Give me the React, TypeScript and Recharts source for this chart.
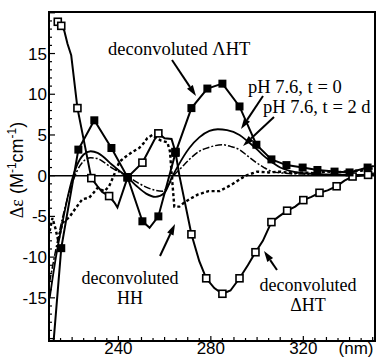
import React from 'react';
import { ComposedChart, Line, XAxis, YAxis, ReferenceLine, ReferenceArea } from 'recharts';

const X_MIN = 210;
const X_MAX = 351;
const Y_MIN = -20.3;
const Y_MAX = 20.1;

const xTicks = [210, 215, 220, 225, 230, 235, 240, 245, 250, 255, 260, 265, 270, 275, 280, 285, 290, 295, 300, 305, 310, 315, 320, 325, 330, 335, 340, 345, 350];
const xLabels = [240, 280, 320];
const yTicks = Array.from({ length: 41 }, (_, i) => i - 20);
const yLabels = [-15, -10, -5, 0, 5, 10, 15];

// deconvoluted ΛHT (filled squares)
const lambdaNm = [211.8, 215.3, 222.7, 229.6, 237.0, 244.0, 250.4, 253.5, 257.3, 264.7, 271.6, 278.5, 285.0, 292.4, 299.7, 306.2, 312.7, 319.7, 326.1, 333.5, 340.0, 347.8, 350.5];
const lambdaVal = [-21, -8.9, 3.2, 6.8, 3.4, -0.2, -5.6, -6.4, -5.0, 2.8, 8.3, 10.7, 11.3, 8.5, 3.8, 2.0, 1.3, 1.0, 0.7, 0.5, 0.4, 1.0, 1.2];
const lambdaMarkers = [215.3, 222.7, 229.6, 237.0, 244.0, 250.4, 257.3, 264.7, 271.6, 278.5, 285.0, 292.4, 299.7, 306.2, 312.7, 319.7, 326.1, 333.5, 340.0, 347.8];

// deconvoluted ΔHT (open squares)
const deltaNm = [212.3, 213.8, 215.3, 216.6, 218.0, 219.6, 222.3, 228.3, 231.0, 233.0, 236.0, 238.3, 239.6, 244.0, 250.4, 253.0, 255.6, 257.3, 260.0, 263.0, 264.7, 266.4, 271.6, 275.0, 278.0, 281.5, 285.0, 288.5, 292.4, 296.0, 299.3, 302.5, 306.2, 309.5, 313.0, 316.5, 320.0, 323.5, 327.0, 330.5, 334.4, 337.8, 341.3, 344.5, 348.0, 350.5];
const deltaVal = [19.2, 18.9, 18.4, 17.8, 16.2, 14.8, 8.3, -0.3, -1.3, -2.0, -2.5, -3.3, -3.9, -0.2, 1.6, 3.0, 4.4, 5.2, 4.6, 4.5, 2.9, 0.0, -7.2, -10.5, -12.6, -13.8, -14.5, -14.1, -12.6, -11.0, -9.4, -8.0, -5.7, -5.0, -4.3, -3.8, -3.0, -2.6, -2.1, -1.8, -1.3, -0.6, -0.1, 0.0, 0.1, 0.3];
const deltaMarkers = [213.8, 215.3, 222.3, 228.3, 236.0, 244.0, 250.4, 257.3, 264.7, 271.6, 278.0, 285.0, 292.4, 299.3, 306.2, 313.0, 320.0, 327.0, 334.4, 341.3, 348.0];

// pH 7.6, t = 0 (solid)
const t0Nm = [210.3, 213, 216, 219, 222, 225, 228, 231, 234, 237, 240, 244, 248, 252, 256, 260, 263, 266, 270.7, 275, 279.4, 283, 287, 292.4, 296, 299.7, 303, 306.7, 310, 314, 320, 330, 340, 350.5];
const t0Val = [-15, -10, -5.5, -1.5, 1.2, 2.6, 3.0, 2.8, 2.2, 1.4, 0.7, -0.2, -1.3, -2.2, -2.6, -2.1, -0.3, 1.3, 3.4, 4.7, 5.5, 5.7, 5.6, 5.0, 4.2, 3.3, 2.4, 1.6, 1.0, 0.6, 0.3, 0.15, 0.1, 0.1];

// pH 7.6, t = 2 d (dash-dot)
const t2Nm = [210.3, 213, 216, 219, 222, 225, 228, 231, 234, 237, 240, 244, 248, 252, 256, 259, 262, 264, 267, 270.7, 275, 279.4, 285, 288.5, 292.4, 296, 299.7, 303, 306.7, 312, 320, 330, 350.5];
const t2Val = [-13, -9, -5, -1.8, 0.5, 1.8, 2.2, 2.1, 1.6, 1.0, 0.5, -0.1, -0.8, -1.4, -1.8, -1.9, -1.0, 0.0, 0.9, 2.0, 3.0, 3.5, 3.8, 3.6, 3.2, 2.4, 1.6, 1.0, 0.5, 0.3, 0.2, 0.1, 0.1];

// deconvoluted HH (dotted)
const hhNm = [210.3, 211.5, 212.8, 214.0, 215.8, 218.8, 221.5, 224.4, 227.4, 229.0, 231.0, 234.0, 236.0, 238.0, 240.4, 243.0, 246.0, 249.0, 251.0, 252.5, 254.7, 256.5, 258.5, 261.2, 262.3, 263.0, 264.2, 266.4, 268.5, 270.7, 274.5, 279.0, 283.7, 289.0, 295.0, 300.0, 305.0, 310.0, 315.0, 320.0, 325.0, 330.0, 335.0, 340.0, 345.0, 350.0];
const hhVal = [-6.8, -5.2, -6.5, -8.0, -5.8, -5.1, -4.0, -2.9, -2.7, -2.2, -1.5, -1.9, -1.3, 0.0, 1.7, 2.3, 2.9, 3.4, 4.0, 4.6, 5.0, 4.6, 4.3, 4.1, 3.0, 0.4, -3.8, -3.8, -3.3, -2.9, -2.3, -1.9, -1.9, -1.1, 0.0, 0.5, 0.4, 0.5, 0.3, 0.4, 0.3, 0.5, 0.4, 0.6, 0.6, 0.9];

const zip = (nm: number[], v: number[]) => nm.map((x, i) => ({ nm: x, v: v[i] }));
const lambdaData = zip(lambdaNm, lambdaVal);
const deltaData = zip(deltaNm, deltaVal);
const t0Data = zip(t0Nm, t0Val);
const t2Data = zip(t2Nm, t2Val);
const hhData = zip(hhNm, hhVal);

const SANS = '"Liberation Sans", Arial, Helvetica, sans-serif';
const SERIF = '"Liberation Serif", "Times New Roman", serif';

const filledDot = (markers: number[]) => (p: any) => {
  if (p.cx == null || !p.payload || !markers.includes(p.payload.nm)) return <g key={`fd${p.index}`} />;
  return <rect key={`fd${p.index}`} x={p.cx - 4} y={p.cy - 4} width={8} height={8} fill="#000" />;
};
const openDot = (markers: number[]) => (p: any) => {
  if (p.cx == null || !p.payload || !markers.includes(p.payload.nm)) return <g key={`od${p.index}`} />;
  return <rect key={`od${p.index}`} x={p.cx - 3.5} y={p.cy - 3.5} width={7} height={7} fill="#fff" stroke="#000" strokeWidth={1.6} />;
};

const XTick = (p: any) => {
  const v = p.payload.value;
  const major = xLabels.includes(v);
  const len = major ? 5 : v % 10 === 0 ? 4 : 3;
  return (
    <g>
      <line x1={p.x} x2={p.x} y1={p.y} y2={p.y - len} stroke="#000" strokeWidth={1.2} />
      {major && (
        <text x={p.x} y={p.y + 13} textAnchor="middle" fontFamily={SANS} fontSize={17} fill="#000">{v}</text>
      )}
    </g>
  );
};

const YTick = (p: any) => {
  const v = p.payload.value;
  const major = v % 5 === 0;
  return (
    <g>
      <line x1={p.x} x2={p.x + (major ? 6 : 3)} y1={p.y} y2={p.y} stroke="#000" strokeWidth={1.2} />
      {yLabels.includes(v) && (
        <text x={p.x - 2} y={p.y + 6} textAnchor="end" fontFamily={SANS} fontSize={17} fill="#000">{v}</text>
      )}
    </g>
  );
};

const Arrow = ({ x1, y1, x2, y2 }: { x1: number; y1: number; x2: number; y2: number }) => {
  const a = Math.atan2(y2 - y1, x2 - x1);
  const L = 11, W = 3.5;
  const bx = x2 - L * Math.cos(a), by = y2 - L * Math.sin(a);
  const px = -Math.sin(a) * W, py = Math.cos(a) * W;
  return (
    <g>
      <line x1={x1} y1={y1} x2={bx} y2={by} stroke="#000" strokeWidth={2} />
      <polygon points={`${x2},${y2} ${bx + px},${by + py} ${bx - px},${by - py}`} fill="#000" />
    </g>
  );
};

export default function App() {
  return (
    <div style={{ position: 'relative', width: 377, height: 358, background: '#fff' }}>
      <style>{`body{margin:0;background:#fff}`}</style>
      <ComposedChart width={377} height={358} margin={{ top: 12, right: 2, bottom: 0, left: 0 }}>
        <XAxis dataKey="nm" type="number" domain={[X_MIN, X_MAX]} ticks={xTicks} allowDataOverflow
          height={17} tickSize={0} tickMargin={0} axisLine={false} tickLine={false} tick={<XTick />} interval={0} />
        <YAxis type="number" domain={[Y_MIN, Y_MAX]} ticks={yTicks} allowDataOverflow
          width={49} tickSize={0} tickMargin={0} axisLine={false} tickLine={false} tick={<YTick />} interval={0} />
        <ReferenceLine y={0} stroke="#000" strokeWidth={1.6} />
        <Line data={hhData} dataKey="v" type="linear" stroke="#000" strokeWidth={2.4} strokeDasharray="3 2.5" dot={false} isAnimationActive={false} />
        <Line data={t2Data} dataKey="v" type="monotone" stroke="#000" strokeWidth={1.5} strokeDasharray="7 2 2 2" dot={false} isAnimationActive={false} />
        <Line data={t0Data} dataKey="v" type="monotone" stroke="#000" strokeWidth={1.8} dot={false} isAnimationActive={false} />
        <Line data={deltaData} dataKey="v" type="linear" stroke="#000" strokeWidth={2} dot={openDot(deltaMarkers)} isAnimationActive={false} />
        <Line data={lambdaData} dataKey="v" type="linear" stroke="#000" strokeWidth={2} dot={filledDot(lambdaMarkers)} isAnimationActive={false} />
        <ReferenceArea x1={X_MIN} x2={X_MAX} y1={Y_MIN} y2={Y_MAX} fill="none" stroke="#000" strokeWidth={2} ifOverflow="visible" />
      </ComposedChart>
      <svg width={377} height={358} style={{ position: 'absolute', left: 0, top: 0, pointerEvents: 'none' }}>
        <text x={0} y={0} transform="translate(23,170) rotate(-90)" textAnchor="middle" fontFamily={SANS} fontSize={18} fill="#000">
          <tspan fontFamily={SERIF}>Δε</tspan>
          <tspan> (M</tspan>
          <tspan fontSize={12} dy={-7}>-1</tspan>
          <tspan dy={7}>cm</tspan>
          <tspan fontSize={12} dy={-7}>-1</tspan>
          <tspan dy={7}>)</tspan>
        </text>
        <text x={356} y={354} textAnchor="middle" fontFamily={SANS} fontSize={17} fill="#000">(nm)</text>
        <g fontFamily={SERIF} fontSize={18.5} fill="#000">
          <text x={108} y={55}>deconvoluted ΛHT</text>
          <text x={248} y={93}>pH 7.6, t = 0</text>
          <text x={263} y={113}>pH 7.6, t = 2 d</text>
        </g>
        <g fontFamily={SERIF} fontSize={18} fill="#000">
          <text x={130} y={284} textAnchor="middle">deconvoluted</text>
          <text x={130} y={304} textAnchor="middle">HH</text>
          <text x={308} y={291} textAnchor="middle">deconvoluted</text>
          <text x={308} y={311} textAnchor="middle">ΔHT</text>
        </g>
        <Arrow x1={172} y1={60} x2={196} y2={96} />
        <Arrow x1={263} y1={96} x2={241} y2={129} />
        <Arrow x1={274} y1={117} x2={243} y2={146} />
        <Arrow x1={160} y1={256} x2={175} y2={224} />
        <Arrow x1={277} y1={270} x2={264} y2={251} />
      </svg>
    </div>
  );
}
